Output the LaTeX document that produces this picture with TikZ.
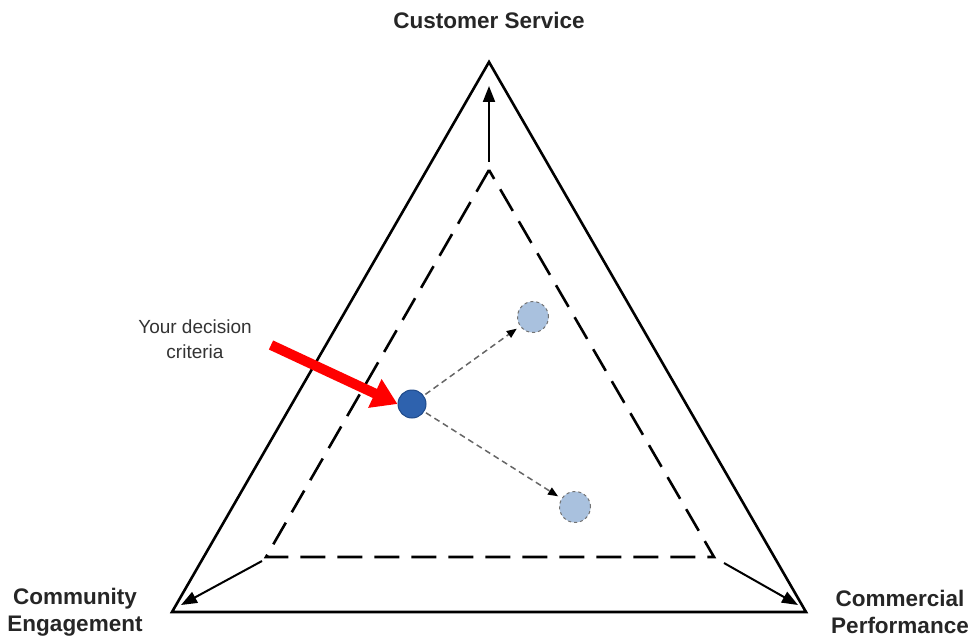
\documentclass[tikz,border=0pt]{standalone}
\usepackage{fontspec}
\setmainfont{Liberation Sans}
\usepackage{tikz}
\usetikzlibrary{arrows.meta}

\definecolor{dotblue}{HTML}{2E62AE}
\definecolor{dotedge}{HTML}{1F4A8A}
\definecolor{ghostblue}{HTML}{A9C1DE}

\begin{document}
\begin{tikzpicture}[
  x=1pt, y=-1pt,
  corner/.style={font=\fontsize{22.5}{27}\selectfont\bfseries, align=center, text=black!85},
  side/.style={line width=2.6pt, line join=miter},
  band/.style={line width=2.6pt, dash pattern=on 25pt off 12pt},
  pull/.style={-{Triangle[length=16pt,width=12pt]}, line width=2pt},
  option/.style={circle, draw=dotedge, fill=dotblue, line width=1pt, minimum size=28pt, inner sep=0pt},
  ghost/.style={circle, draw=black!55, fill=ghostblue, line width=1pt, dashed, minimum size=31pt, inner sep=0pt},
  drift/.style={-{Triangle[length=10pt,width=8pt,fill=black,color=black]}, line width=1.5pt, dash pattern=on 6pt off 4pt, draw=black!60, shorten >=4pt, shorten <=2pt}
]
\useasboundingbox (0,0) rectangle (971,639);

% Outer triangle
\coordinate (top) at (489,62);
\coordinate (left) at (172,612);
\coordinate (right) at (806,612);
\draw[side] (top) -- (left) -- (right) -- cycle;

% Inner dashed triangle
\coordinate (itop) at (489,170);
\coordinate (ileft) at (266,557);
\coordinate (iright) at (714,557);
\draw[band] (itop) -- (ileft) -- (iright) -- cycle;

% Arrows towards the corners
\coordinate (tstart) at (489,162);
\coordinate (tend) at (489,86);
\coordinate (lstart) at (262,561);
\coordinate (lend) at (181,605);
\coordinate (rstart) at (724,563);
\coordinate (rend) at (798,605);
\draw[pull] (tstart) -- (tend);
\draw[pull] (lstart) -- (lend);
\draw[pull] (rstart) -- (rend);

% Corner labels
\node[corner] (cs) at (489,20) {Customer Service};
\node[corner] (ce) at (75,612) {Community\\Engagement};
\node[corner] (cp) at (900,612) {Commercial\\Performance};

% Decision points
\node[option] (now) at (412,404) {};
\node[ghost] (up) at (533,317) {};
\node[ghost] (down) at (575,507) {};
\draw[drift] (now) -- (up);
\draw[drift] (now) -- (down);

% Red pointer
\node[font=\fontsize{19}{25}\selectfont, align=center, text=black!80] (crit) at (195,339) {Your decision\\criteria};
\coordinate (ptail) at (271,345);
\draw[-{Triangle[length=25pt,width=30pt]}, line width=10pt, draw=red] (ptail) -- (now.west);

\end{tikzpicture}
\end{document}
